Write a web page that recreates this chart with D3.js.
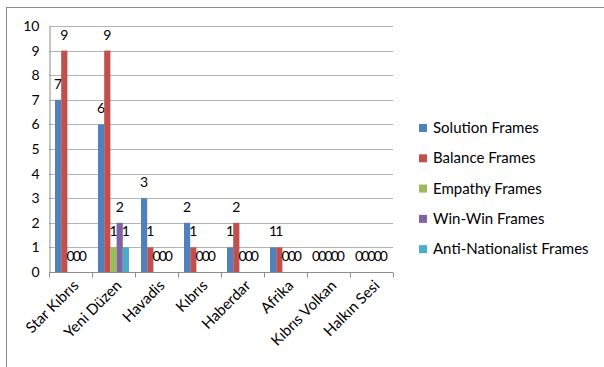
<!DOCTYPE html>
<html><head><meta charset="utf-8">
<script src="https://cdn.jsdelivr.net/npm/d3@7"></script>
<style>body{margin:0;background:#fff}svg{display:block}text{font-family:Lato,"Open Sans",sans-serif;fill:#000}</style>
</head><body>
<svg id="c" width="604" height="367"></svg>
<script>
const categories = ["Star Kıbrıs","Yeni Düzen","Havadis","Kıbrıs","Haberdar","Afrika","Kıbrıs Volkan","Halkın Sesi"];
const seriesNames = ["Solution Frames","Balance Frames","Empathy Frames","Win-Win Frames","Anti-Nationalist Frames"];
const solution = [7,6,3,2,1,1,0,0];
const balance = [9,9,1,1,2,1,0,0];
const empathy = [0,1,0,0,0,0,0,0];
const winwin = [0,2,0,0,0,0,0,0];
const antiNat = [0,1,0,0,0,0,0,0];
const yTicks = [0,1,2,3,4,5,6,7,8,9,10];
const colors = ["#4F81BD","#C0504D","#9BBB59","#8064A2","#4BACC6"];
const series = [solution,balance,empathy,winwin,antiNat];

const svg = d3.select("#c");
// chart frame (cut off by the window on right and bottom)
svg.append("rect").attr("x",6.5).attr("y",7.5).attr("width",620).attr("height",380).attr("fill","#fff").attr("stroke","#8c8c8c");

const x0 = d3.scaleBand().domain(categories).range([49,393]).paddingInner(0).paddingOuter(0);
const x1 = d3.scaleBand().domain(d3.range(5)).range([6,x0.bandwidth()-6]).padding(0);
const y = d3.scaleLinear().domain([0,10]).range([272,26]);

// gridlines
svg.append("g").selectAll("line").data(yTicks.slice(1)).join("line")
  .attr("x1",49).attr("x2",393).attr("y1",d=>Math.round(y(d))+0.5).attr("y2",d=>Math.round(y(d))+0.5)
  .attr("stroke","#b3b3b3").attr("stroke-width",1);

// y axis
const ya = svg.append("g").attr("transform","translate(49.5,0)").call(d3.axisLeft(y).tickValues(yTicks).tickSize(0).tickPadding(10));
ya.select(".domain").attr("stroke","#8c8c8c");
ya.selectAll("text").attr("font-size",14).attr("font-family","Lato");

// bars
const g = svg.append("g");
series.forEach((vals,si)=>{
  g.selectAll(null).data(vals).join("rect")
    .attr("x",(d,i)=>x0(categories[i])+x1(si))
    .attr("width",x1.bandwidth())
    .attr("y",d=>y(d))
    .attr("height",d=>y(0)-y(d))
    .attr("fill",colors[si]);
  g.selectAll(null).data(vals).join("text")
    .attr("x",(d,i)=>x0(categories[i])+x1(si)+x1.bandwidth()/2)
    .attr("y",d=>y(d)-11)
    .attr("text-anchor","middle")
    .attr("font-size",14)
    .text(d=>d);
});

// x axis
const xa = svg.append("g").attr("transform","translate(0,272.5)");
xa.append("line").attr("x1",49).attr("x2",393).attr("stroke","#8c8c8c");
xa.selectAll("line.t").data(categories.concat(["_end"])).join("line").attr("class","t")
  .attr("x1",(d,i)=>Math.round(49+i*x0.bandwidth())+0.5).attr("x2",(d,i)=>Math.round(49+i*x0.bandwidth())+0.5)
  .attr("y1",0).attr("y2",5).attr("stroke","#8c8c8c");
xa.selectAll("text").data(categories).join("text")
  .attr("transform",d=>`translate(${x0(d)+x0.bandwidth()/2+9},${14}) rotate(-45)`)
  .attr("text-anchor","end").attr("font-size",15).text(d=>d);

// legend
const lg = svg.append("g");
seriesNames.forEach((n,i)=>{
  const cy = 128 + i*30.3;
  lg.append("rect").attr("x",419).attr("y",cy-4).attr("width",8).attr("height",8).attr("fill",colors[i]);
  lg.append("text").attr("x",433).attr("y",cy+5).attr("font-size",15).text(n);
});
</script>
</body></html>
